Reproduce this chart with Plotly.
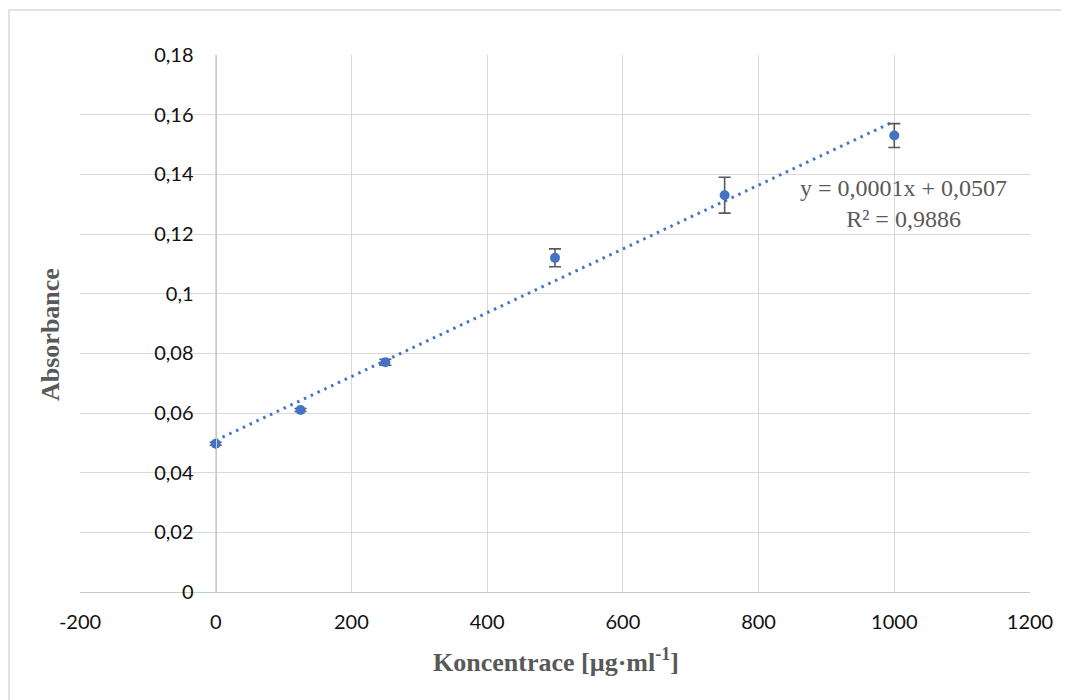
import numpy as np
import plotly.graph_objects as go

# Data
concentration = [0, 125, 250, 500, 750, 1000]
absorbance = [0.0497, 0.061, 0.077, 0.112, 0.133, 0.153]
abs_error = [0.0005, 0.0005, 0.001, 0.003, 0.006, 0.004]

x_tickvals = [-200, 0, 200, 400, 600, 800, 1000, 1200]
x_ticktext = ["-200", "0", "200", "400", "600", "800", "1000", "1200"]
y_tickvals = [0, 0.02, 0.04, 0.06, 0.08, 0.1, 0.12, 0.14, 0.16, 0.18]
y_ticktext = ["0", "0,02", "0,04", "0,06", "0,08", "0,1", "0,12", "0,14", "0,16", "0,18"]

equation_text = "y = 0,0001x + 0,0507<br>R² = 0,9886"
x_title = "Koncentrace [µg·ml<sup>-1</sup>]"
y_title = "Absorbance"

# Linear trendline from data
slope, intercept = np.polyfit(concentration, absorbance, 1)
trend_x = [min(concentration), max(concentration)]
trend_y = [slope * v + intercept for v in trend_x]

BLUE = "#4472C4"
GRID = "#d9d9d9"
TXT_GRAY = "#595959"

# page body has an 8px margin; work in screen pixels and offset
OFF = 8
W, H = 1069 - OFF, 700 - OFF
L, T = 80 - OFF, 55 - OFF
R = W - (1030 - OFF)
B = H - (592 - OFF)
pw, ph = W - L - R, H - T - B

def sx(px):
    return (px - OFF - L) / pw

def sy(py):
    return (H - B - (py - OFF)) / ph

fig = go.Figure()
fig.add_trace(go.Scatter(
    x=trend_x, y=trend_y, mode="lines",
    line=dict(color=BLUE, width=3, dash="2.5px,5px"),
    hoverinfo="skip", showlegend=False,
))
fig.add_trace(go.Scatter(
    x=concentration, y=absorbance, mode="markers",
    marker=dict(color=BLUE, size=10),
    error_y=dict(type="data", array=abs_error, visible=True,
                 color=TXT_GRAY, thickness=1.6, width=6),
    showlegend=False,
))

fig.update_layout(
    width=W, height=H,
    margin=dict(l=L, r=R, t=T, b=B),
    paper_bgcolor="white", plot_bgcolor="white",
    showlegend=False,
    font=dict(family="Lato", size=20, color="#111111"),
    xaxis=dict(
        range=[-200, 1200], tickvals=x_tickvals, ticktext=x_ticktext,
        showgrid=True, gridcolor=GRID, gridwidth=1.3,
        zeroline=False, showline=True, linecolor="#c8c8c8", linewidth=1.3,
        ticks="", ticklabelstandoff=12,
        tickfont=dict(family="Lato", size=20, color="#111111"),
    ),
    yaxis=dict(
        range=[0, 0.18], tickvals=y_tickvals, ticktext=y_ticktext,
        showgrid=True, gridcolor=GRID, gridwidth=1.3,
        zeroline=False, showline=True, linecolor="#c8c8c8", linewidth=1.3,
        anchor="free", position=(0 - (-200)) / 1400,
        ticks="", ticklabelstandoff=18,
        tickfont=dict(family="Lato", size=20, color="#111111"),
    ),
    annotations=[
        dict(text=equation_text, xref="paper", yref="paper",
             x=sx(903), y=sy(203),
             xanchor="center", yanchor="middle", showarrow=False, align="center",
             font=dict(family="Liberation Serif", size=24, color=TXT_GRAY)),
        dict(text="<b>" + x_title + "</b>", xref="paper", yref="paper",
             x=sx(556), y=sy(660),
             xanchor="center", yanchor="middle", showarrow=False,
             font=dict(family="Liberation Serif", size=26, color=TXT_GRAY)),
        dict(text="<b>" + y_title + "</b>", xref="paper", yref="paper",
             x=sx(50), y=sy(335), textangle=-90,
             xanchor="center", yanchor="middle", showarrow=False,
             font=dict(family="Liberation Serif", size=26, color=TXT_GRAY)),
    ],
    shapes=[
        dict(type="rect", xref="paper", yref="paper",
             x0=sx(9), x1=sx(1090),
             y0=sy(720), y1=sy(10),
             line=dict(color=GRID, width=1.5), layer="below"),
    ],
)

fig.write_html("out.html")
